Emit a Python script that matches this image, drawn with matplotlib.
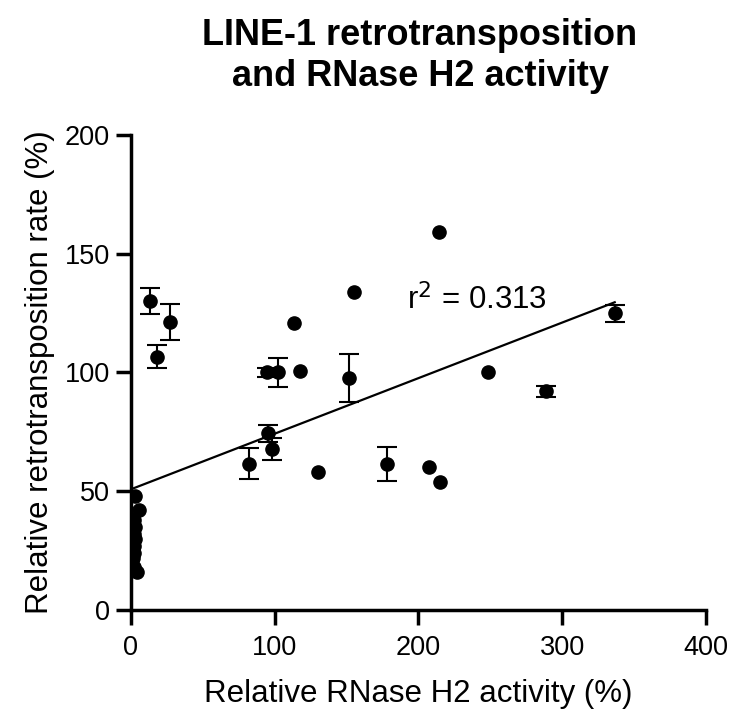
import matplotlib.pyplot as plt

plt.rcParams['font.family'] = ['Liberation Sans', 'DejaVu Sans']

# Relative RNase H2 activity (%) and relative retrotransposition rate (%)
rnase_activity = [3, 6, 2, 3, 2, 3, 2, 2, 1.5, 2, 4,
                  13, 27, 18,
                  113.5, 94.6, 102.6, 117.4, 151.6, 95.7, 98.5, 81.9, 130.3,
                  155, 214.5, 248.4, 288.8, 178, 207.6, 215.2, 336.6]
retro_rate = [48, 42, 38, 35, 32, 30, 27, 24, 22, 18, 16,
              130.1, 121.3, 106.7,
              121, 100, 100, 100.8, 97.6, 74.4, 67.7, 61.5, 58,
              134, 159.2, 100.3, 92, 61.5, 60, 54, 124.9]
retro_err = [0, 0, 0, 0, 0, 0, 0, 0, 0, 0, 0,
             5.5, 7.7, 5,
             0, 2, 6, 0, 10, 3.5, 4.5, 6.5, 0,
             0, 0, 0, 2.5, 7, 0, 0, 3.7]

# Linear regression shown in the figure
fit_slope = 0.234
fit_intercept = 50.8
r_squared = 0.313

fig = plt.figure(figsize=(7.31, 7.13), dpi=100)
ax = fig.add_axes([0.179, 0.1445, 0.7866, 0.6662])

# error bars only where there is an error
ex = [x for x, e in zip(rnase_activity, retro_err) if e > 0]
ey = [y for y, e in zip(retro_rate, retro_err) if e > 0]
ee = [e for e in retro_err if e > 0]
ax.errorbar(ex, ey, yerr=ee, fmt='none', ecolor='black',
            capsize=7, elinewidth=1.5, capthick=1.5, zorder=2)
ax.plot(rnase_activity, retro_rate, 'o', color='black', markersize=9.5, zorder=3)

fit_x = [min(rnase_activity), max(rnase_activity)]
fit_y = [fit_slope * v + fit_intercept for v in fit_x]
ax.plot(fit_x, fit_y, color='black', linewidth=1.6)

ax.text(241, 130.5, 'r$^2$ = %.3f' % r_squared, fontsize=22.5, ha='center', va='center')

ax.set_xlim(0, 400)
ax.set_ylim(0, 200)
ax.set_xticks([0, 100, 200, 300, 400])
ax.set_yticks([0, 50, 100, 150, 200])
for side in ['top', 'right']:
    ax.spines[side].set_visible(False)
for side in ['left', 'bottom']:
    ax.spines[side].set_linewidth(2.5)
ax.tick_params(width=2.5, length=11, labelsize=19.5)
ax.tick_params(axis='y', pad=4)
ax.tick_params(axis='x', pad=7)

ax.set_xlabel('Relative RNase H2 activity (%)', fontsize=22.5, labelpad=13)
ax.set_ylabel('Relative retrotransposition rate (%)', fontsize=22.5, labelpad=7)

fig.text(0.5746, 0.975, 'LINE-1 retrotransposition\nand RNase H2 activity',
         fontsize=26, fontweight='bold', ha='center', va='top', linespacing=1.22)

plt.savefig('out.png', dpi=100)
